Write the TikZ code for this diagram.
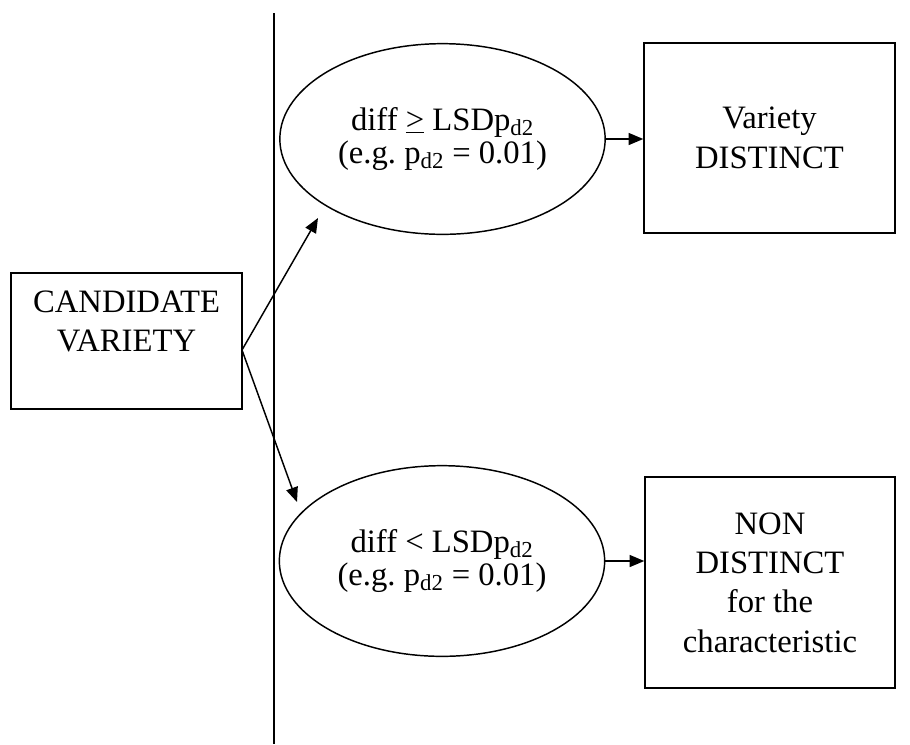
\documentclass[tikz,border=0pt]{standalone}
\usepackage{fontspec}
\setmainfont{Liberation Serif}
\usetikzlibrary{shapes.geometric,arrows.meta}

\begin{document}
\begin{tikzpicture}[x=0.75pt, y=-0.75pt, line width=1.1pt, >={Triangle[length=11pt,width=9pt]}]
    % Styles
    \tikzstyle{box} = [draw, rectangle, align=center, inner sep=0pt, font=\fontsize{24.5}{29.5}\selectfont]
    \tikzstyle{test} = [draw, ellipse, align=center, inner sep=0pt, minimum width=244pt, minimum height=143pt, font=\fontsize{24.5}{25}\selectfont]
    \tikzstyle{point} = [coordinate]

    \useasboundingbox (0,0) rectangle (910,744);

    % Nodes
    \node [box, minimum width=173.25pt, minimum height=102pt] (cand) at (126.5,341) {CANDIDATE\\VARIETY\\\mbox{}};
    \node [test] (hi) at (442.5,139) {diff \underline{>} LSDp\textsubscript{d2}\\(e.g.\ p\textsubscript{d2} = 0.01)};
    \node [test] (lo) at (442,561) {diff < LSDp\textsubscript{d2}\\(e.g.\ p\textsubscript{d2} = 0.01)};
    \node [box, minimum width=188.25pt, minimum height=142.5pt] (dist) at (769.5,138) {Variety\\DISTINCT};
    \node [box, minimum width=187.5pt, minimum height=158.25pt] (nondist) at (770,582.5) {NON\\DISTINCT\\for the\\characteristic};

    \node [point] (fork) at (242,350) {};
    \node [point] (hitip) at (318,218) {};
    \node [point] (lotip) at (297,502) {};
    \node [point] (divtop) at (274,13) {};
    \node [point] (divbot) at (274,744) {};

    % Connections
    \draw [line width=1.5pt] (divtop) -- (divbot);
    \draw [->] (fork) -- (hitip);
    \draw [->] (fork) -- (lotip);
    \draw [->] (hi.east) -- (hi.east -| dist.west);
    \draw [->] (lo.east) -- (lo.east -| nondist.west);
\end{tikzpicture}
\end{document}
